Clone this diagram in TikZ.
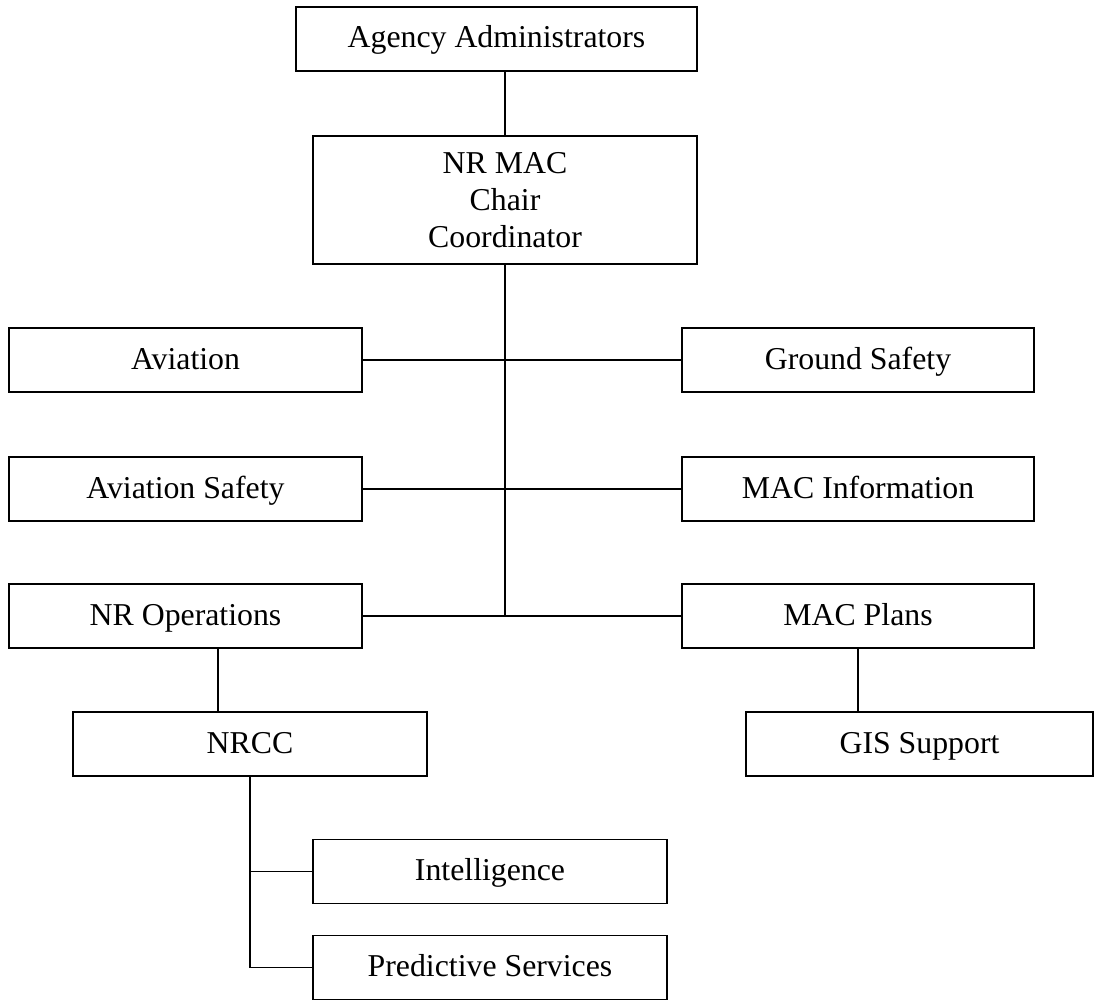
\documentclass[tikz,border=0pt]{standalone}
\usepackage{fontspec}
\setmainfont{Liberation Serif}
\begin{document}
\begin{tikzpicture}[x=1pt,y=-1pt,
  basebox/.style={draw, line width=1.4pt, inner sep=0pt, align=center,
    font=\fontsize{31.8}{36.7}\selectfont, minimum height=64pt, minimum width=353pt},
  box/.style={basebox, text height=24pt, text depth=6pt},
  conn/.style={line width=1.4pt}]
\useasboundingbox (0,0) rectangle (1094,1000);
\node[box, minimum width=401pt] (agency) at (496.5,39) {Agency Administrators};
\node[basebox, minimum width=384pt, minimum height=128pt] (nrmac) at (505,200) {NR MAC\\Chair\\Coordinator};
\node[box] (aviation) at (185.5,360) {Aviation};
\node[box, minimum width=352pt] (ground) at (858,360) {Ground Safety};
\node[box] (avsafety) at (185.5,489) {Aviation Safety};
\node[box, minimum width=352pt] (macinfo) at (858,489) {MAC Information};
\node[box] (nrops) at (185.5,616) {NR Operations};
\node[box, minimum width=352pt] (macplans) at (858,616) {MAC Plans};
\node[box, minimum width=354pt] (nrcc) at (250,744) {NRCC};
\node[box, minimum width=347pt] (gis) at (919.5,744) {GIS Support};
\node[box, minimum width=354pt] (intel) at (490,871.5) {Intelligence};
\node[box, minimum width=354pt] (predictive) at (490,967.5) {Predictive Services};
\coordinate (trunkend) at (nrmac.south |- nrops.east);
\draw[conn] (nrmac.north) -- (nrmac.north |- agency.south);
\draw[conn] (nrmac.south) -- (trunkend);
\draw[conn] (aviation.east) -- (ground.west);
\draw[conn] (avsafety.east) -- (macinfo.west);
\draw[conn] (nrops.east) -- (macplans.west);
\draw[conn] ([xshift=32.5pt]nrops.south) -- ([xshift=32.5pt]nrops.south |- nrcc.north);
\draw[conn] (macplans.south) -- (macplans.south |- gis.north);
\draw[conn] (nrcc.south) |- (predictive.west);
\draw[conn] (nrcc.south |- intel.west) -- (intel.west);
\end{tikzpicture}
\end{document}
